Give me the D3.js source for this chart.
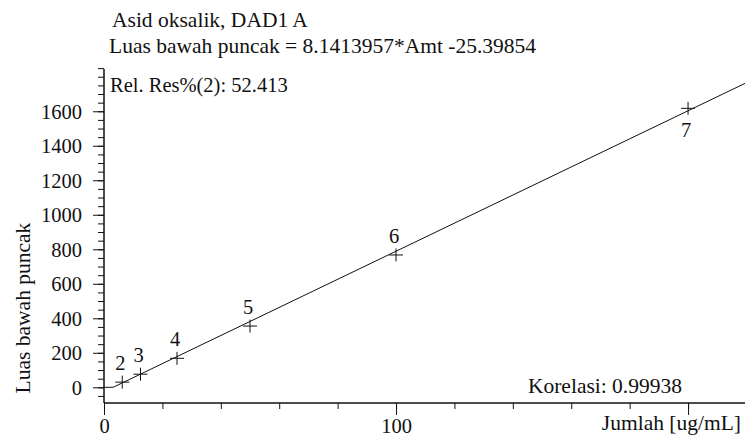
<!DOCTYPE html>
<html>
<head>
<meta charset="utf-8">
<script src="https://cdn.jsdelivr.net/npm/d3@7"></script>
<style>
  body { margin: 0; background: #fff; }
</style>
</head>
<body>
<div id="chart"></div>
<script>
var width = 747, height = 437;
var font = "'Liberation Serif', serif";
var numSize = '20.5px';
var wordSize = '21.5px';

// calibration levels (amount, area) and their labels
var levels = ['2', '3', '4', '5', '6', '7'];
var amounts = [6.25, 12.5, 25, 50, 100, 200];
var areas = [30, 76, 168, 355, 767, 1617];

var slope = 8.1413957, intercept = -25.39854;
var titleLines = ['Asid oksalik, DAD1 A', 'Luas bawah puncak = 8.1413957*Amt -25.39854'];
var relResText = 'Rel. Res%(2): 52.413';
var corrText = 'Korelasi: 0.99938';
var xTitle = 'Jumlah [ug/mL]';
var yTitle = 'Luas bawah puncak';

var xMajor = [0, 100, 200];
var xTickLabels = ['0', '100', ''];
var xMinor = d3.range(20, 220, 20);
var yMajor = [0, 200, 400, 600, 800, 1000, 1200, 1400, 1600];
var yMinor = d3.range(-50, 1851, 50);

var svg = d3.select('#chart')
  .append('svg')
    .attr('width', width)
    .attr('height', height);

var x = d3.scaleLinear().domain([0, 219.5]).range([104, 745]);
var y = d3.scaleLinear().domain([-91, 1845]).range([403, 69]);

function txt (sel, size) {
  return sel.style('font-family', font).style('font-size', size || numSize).attr('fill', '#111');
}

// x axis: minor + major ticks
var xAxisG = svg.append('g').attr('transform', `translate(0, ${y.range()[0]})`);
xAxisG.call(d3.axisBottom(x).tickValues(xMinor).tickSize(6).tickFormat(''));
xAxisG.append('g').call(d3.axisBottom(x).tickValues(xMajor).tickSize(12)
  .tickFormat((d, i) => xTickLabels[i]));
xAxisG.selectAll('.domain').attr('d', `M${x.range()[0]},0H${x.range()[1]}`);

// y axis
var yAxisG = svg.append('g').attr('transform', `translate(${x.range()[0]}, 0)`);
yAxisG.call(d3.axisLeft(y).tickValues(yMinor).tickSize(6).tickFormat(''));
yAxisG.append('g').call(d3.axisLeft(y).tickValues(yMajor).tickSize(11).tickFormat(d3.format('d')));
yAxisG.selectAll('.domain').attr('d', `M0,${y.range()[0]}V${y.range()[1]}`);

txt(svg.selectAll('.tick text'));
xAxisG.selectAll('.tick text').attr('dy', null).attr('y', 30);
yAxisG.selectAll('.tick text').attr('x', -22).attr('dy', '0.35em');
svg.selectAll('.domain, .tick line').attr('stroke', '#111');

// regression line: flat at 0 until intercept, then the fit
var x0 = -intercept / slope;
var lineData = [[0, 0], [x0, 0], [x.domain()[1], slope * x.domain()[1] + intercept]];
svg.append('path')
  .datum(lineData)
  .attr('fill', 'none')
  .attr('stroke', '#111')
  .attr('stroke-width', 1)
  .attr('d', d3.line().x(d => x(d[0])).y(d => y(d[1])));

// markers
var pts = amounts.map((a, i) => ({ amt: a, area: areas[i], label: levels[i] }));
var m = 7;
svg.selectAll('.mark')
  .data(pts)
  .enter().append('path')
    .attr('class', 'mark')
    .attr('stroke', '#111')
    .attr('fill', 'none')
    .attr('d', d => `M${x(d.amt) - m},${y(d.area)}h${2 * m}M${x(d.amt)},${y(d.area) - m + 0.5}v${2 * m - 1}`);

txt(svg.selectAll('.lvl')
  .data(pts)
  .enter().append('text')
    .attr('class', 'lvl')
    .attr('x', d => x(d.amt) - 2)
    .attr('y', (d, i) => i === pts.length - 1 ? y(d.area) + 29 : y(d.area) - 12)
    .attr('text-anchor', 'middle')
    .text(d => d.label));

// texts
txt(svg.selectAll('.title')
  .data(titleLines)
  .enter().append('text')
    .attr('x', (d, i) => i === 0 ? 112 : 109)
    .attr('y', (d, i) => 27 + i * 25.5)
    .text(d => d), wordSize);

txt(svg.append('text').attr('x', 110).attr('y', 92).text(relResText));
txt(svg.append('text').attr('x', 682).attr('y', 393).attr('text-anchor', 'end').text(corrText), wordSize);
txt(svg.append('text').attr('x', 741).attr('y', 430).attr('text-anchor', 'end').text(xTitle), wordSize);
txt(svg.append('text')
  .attr('transform', 'translate(30, 308) rotate(-90)')
  .attr('text-anchor', 'middle')
  .text(yTitle), wordSize);
</script>
</body>
</html>
